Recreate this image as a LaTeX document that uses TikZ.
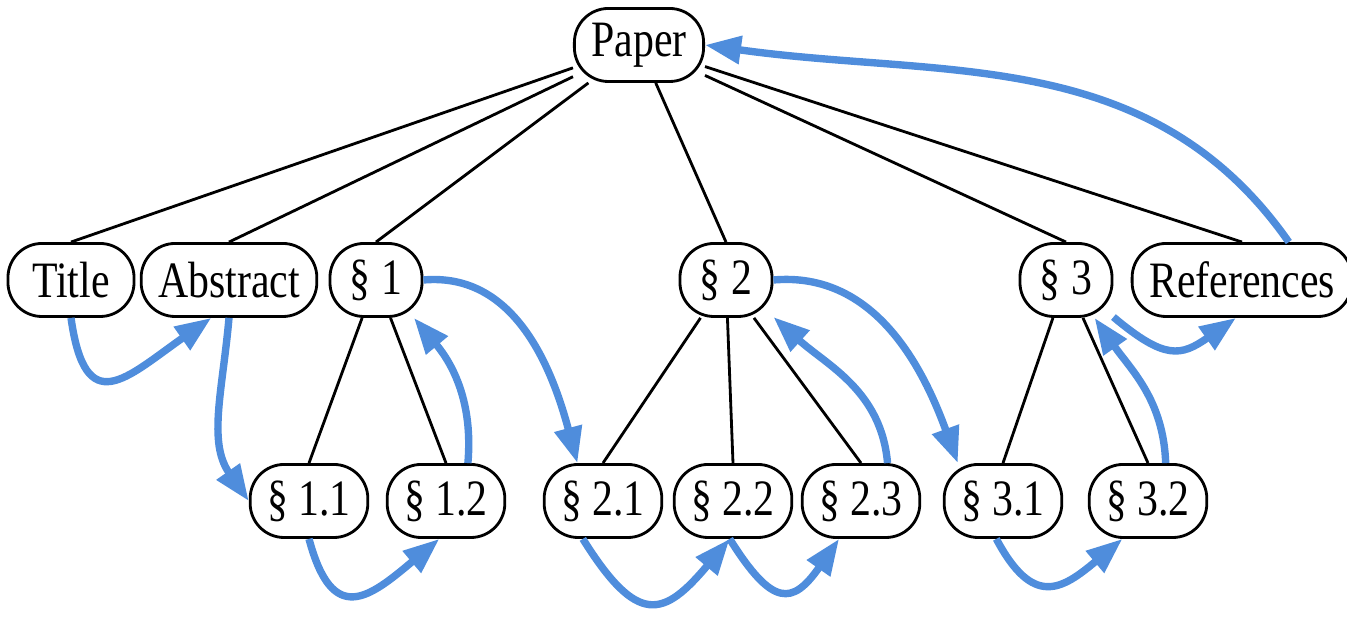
\documentclass[tikz,border=0pt]{standalone}
\usepackage{fontspec}
\setmainfont{Liberation Serif}[FakeStretch=0.82]
\usetikzlibrary{arrows.meta}
\definecolor{flowblue}{RGB}{79,141,220}

\begin{document}
\begin{tikzpicture}[x=0.01cm,y=0.01cm,
sect/.style={
  draw,
  line width=0.8pt,
  rounded corners=0.34cm,
  minimum height=0.73cm,
  minimum width=0.92cm,
  inner xsep=0.17cm,
  font={\fontsize{14.5pt}{16pt}\selectfont}},
treeline/.style={
  line width=0.8pt},
readflow/.style={
  draw=flowblue,
  line width=2.1pt,
  -{Triangle[length=0.36cm,width=0.27cm]}},
]
\useasboundingbox (0,0) rectangle (1347,622);

% top
\node[sect] (paper) at (639,577) {Paper};

% sections
\node[sect,minimum width=1.26cm] (title) at (71,342) {Title};
\node[sect] (abstract) at (229,342) {Abstract};
\node[sect] (s1) at (376,342) {\S\ 1};
\node[sect] (s2) at (726,342) {\S\ 2};
\node[sect] (s3) at (1066,342) {\S\ 3};
\node[sect] (refs) at (1242,342) {References};

% subsections
\node[sect] (s11) at (309,121) {\S\ 1.1};
\node[sect] (s12) at (446,121) {\S\ 1.2};
\node[sect] (s21) at (603,121) {\S\ 2.1};
\node[sect] (s22) at (733,121) {\S\ 2.2};
\node[sect] (s23) at (861,121) {\S\ 2.3};
\node[sect] (s31) at (1003,121) {\S\ 3.1};
\node[sect] (s32) at (1148,121) {\S\ 3.2};

% tree
\foreach \child in {title,abstract,s1,s2,s3,refs}
  \draw[treeline] (paper) -- (\child.north);
\foreach \child in {s11,s12}
  \draw[treeline] (s1) -- (\child.north);
\foreach \child in {s21,s22,s23}
  \draw[treeline] (s2) -- (\child.north);
\foreach \child in {s31,s32}
  \draw[treeline] (s3) -- (\child.north);

% reading order
\draw[readflow] (title.south) to[out=-82,in=-145,looseness=1.9] (abstract.245);
\draw[readflow] (abstract.south) to[out=-95,in=125] (s11.west);
\draw[readflow] (s11.south) to[out=-75,in=-140,looseness=1.8] (s12.-100);
\draw[readflow] (s12.60) to[out=85,in=-50] (s1.-45);
\draw[readflow] (s1.east) to[out=5,in=105] (s21.124);
\draw[readflow] (s21.-118) to[out=-58,in=-130,looseness=1.8] (s22.-95);
\draw[readflow] (s22.-95) to[out=-58,in=-125,looseness=1.9] (s23.-120);
\draw[readflow] (s23.55) to[out=95,in=-42] (s2.-38);
\draw[readflow] (s2.east) to[out=5,in=110] (s31.140);
\draw[readflow] (s31.-100) to[out=-62,in=-140,looseness=1.6] (s32.-124);
\draw[readflow] (s32.65) to[out=92,in=-55] (s3.-53);
\draw[readflow] (s3.-38) to[out=-40,in=-145,looseness=1.4] (refs.-99);
\draw[readflow] (refs.39) to[out=125,in=-8] (paper.east);

\end{tikzpicture}
\end{document}
